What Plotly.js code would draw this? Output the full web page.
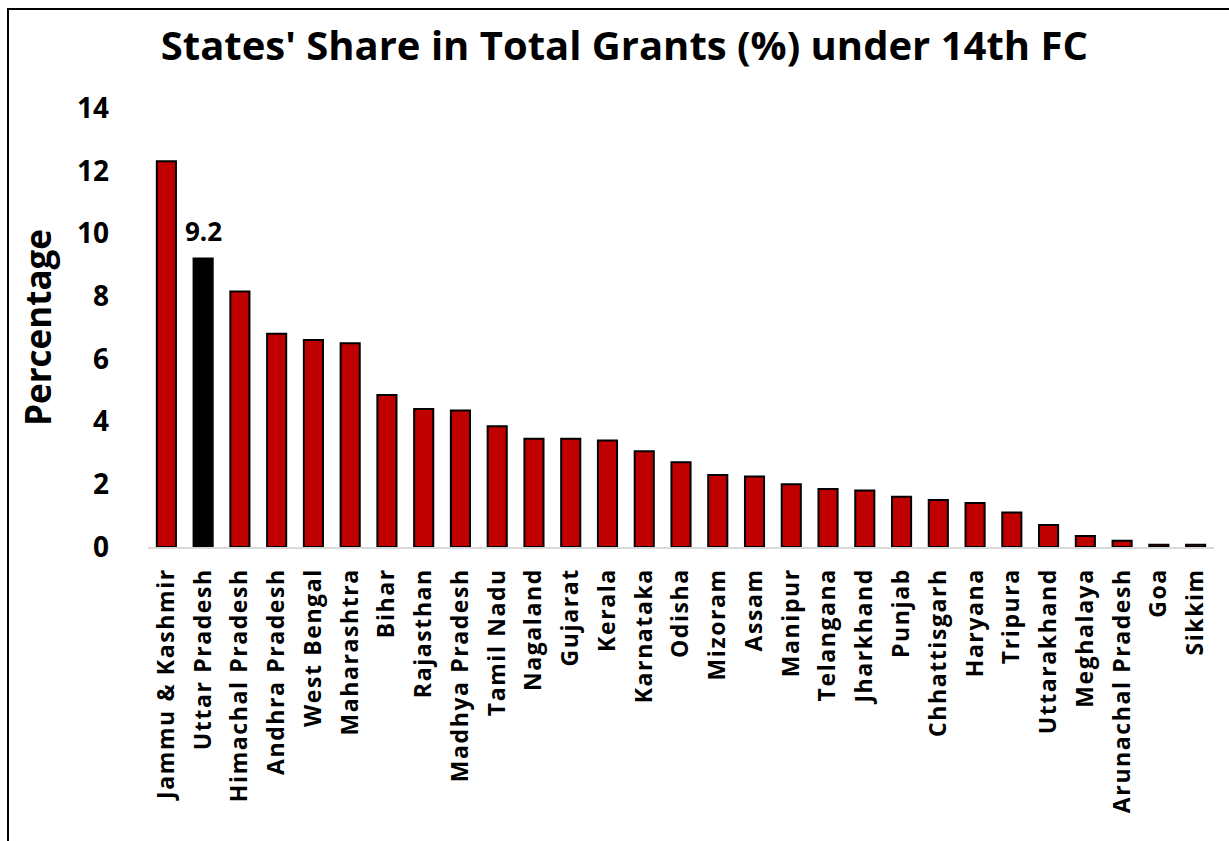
<!DOCTYPE html>
<html>
<head>
<meta charset="utf-8">
<script src="https://cdn.plot.ly/plotly-3.0.1.min.js"></script>
<style>
  html, body { margin: 0; padding: 0; background: #fff; }
  #wrap { position: relative; width: 1229px; height: 841px; overflow: hidden; }
  #chart { position: absolute; left: 0; top: 0; width: 1229px; height: 841px; }
  #frame { position: absolute; left: 7px; top: 8px; width: 1300px; height: 900px;
           border-left: 2px solid #000; border-top: 2px solid #000; pointer-events: none; }
  #chart .xtick text { letter-spacing: 1.6px; }
</style>
</head>
<body>
<div id="wrap">
  <div id="chart"></div>
  <div id="frame"></div>
</div>
<script>
const states = ["Jammu & Kashmir", "Uttar Pradesh", "Himachal Pradesh", "Andhra Pradesh", "West Bengal",
  "Maharashtra", "Bihar", "Rajasthan", "Madhya Pradesh", "Tamil Nadu", "Nagaland", "Gujarat", "Kerala",
  "Karnataka", "Odisha", "Mizoram", "Assam", "Manipur", "Telangana", "Jharkhand", "Punjab", "Chhattisgarh",
  "Haryana", "Tripura", "Uttarakhand", "Meghalaya", "Arunachal Pradesh", "Goa", "Sikkim"];
const shares = [12.3, 9.2, 8.15, 6.8, 6.6, 6.5, 4.85, 4.4, 4.35, 3.85, 3.45, 3.45, 3.4,
  3.05, 2.7, 2.3, 2.25, 2.0, 1.85, 1.8, 1.6, 1.5, 1.4, 1.1, 0.7, 0.35, 0.2, 0.07, 0.07];
const highlightState = "Uttar Pradesh";
const labelText = "9.2";
const yTicks = [0, 2, 4, 6, 8, 10, 12, 14];

const colors = states.map(s => s === highlightState ? "#000000" : "#C00000");
const hi = states.indexOf(highlightState);

const trace = {
  type: "bar",
  x: states,
  y: shares,
  marker: { color: colors, line: { color: "#000000", width: 2 } },
  hoverinfo: "x+y"
};

const FONT = "Open Sans, Lato, sans-serif";

const layout = {
  width: 1229, height: 841,
  margin: { l: 148, r: 15, t: 107.5, b: 294, pad: 0 },
  paper_bgcolor: "rgba(0,0,0,0)",
  plot_bgcolor: "#ffffff",
  showlegend: false,
  bargap: 0.48,
  title: {
    text: "<b>States' Share in Total Grants (%) under 14th FC</b>",
    font: { family: FONT, size: 40, color: "#000" },
    x: 0.508, xanchor: "center", y: 0.945, yanchor: "middle"
  },
  xaxis: {
    type: "category",
    tickangle: -90,
    tickfont: { family: FONT, size: 23, color: "#000", weight: "bold" },
    showline: true, linecolor: "#d9d9d9", linewidth: 2,
    ticks: "", showgrid: false, zeroline: false,
    ticklabelstandoff: 10
  },
  yaxis: {
    range: [0, 14],
    tickvals: yTicks,
    ticktext: yTicks.map(String),
    tickfont: { family: FONT, size: 28, color: "#000", weight: "bold" },
    showline: false, showgrid: false, zeroline: false, ticks: "",
    ticklabelstandoff: 38,
    title: { text: "<b>Percentage</b>", font: { family: FONT, size: 35, color: "#000" }, standoff: 14 }
  },
  annotations: [{
    x: states[hi], y: shares[hi], xref: "x", yref: "y",
    text: "<b>" + labelText + "</b>", showarrow: false,
    yanchor: "bottom", yshift: 8,
    font: { family: FONT, size: 26, color: "#000" }
  }]
};

Plotly.newPlot("chart", [trace], layout, { displayModeBar: false, staticPlot: true });
</script>
</body>
</html>
